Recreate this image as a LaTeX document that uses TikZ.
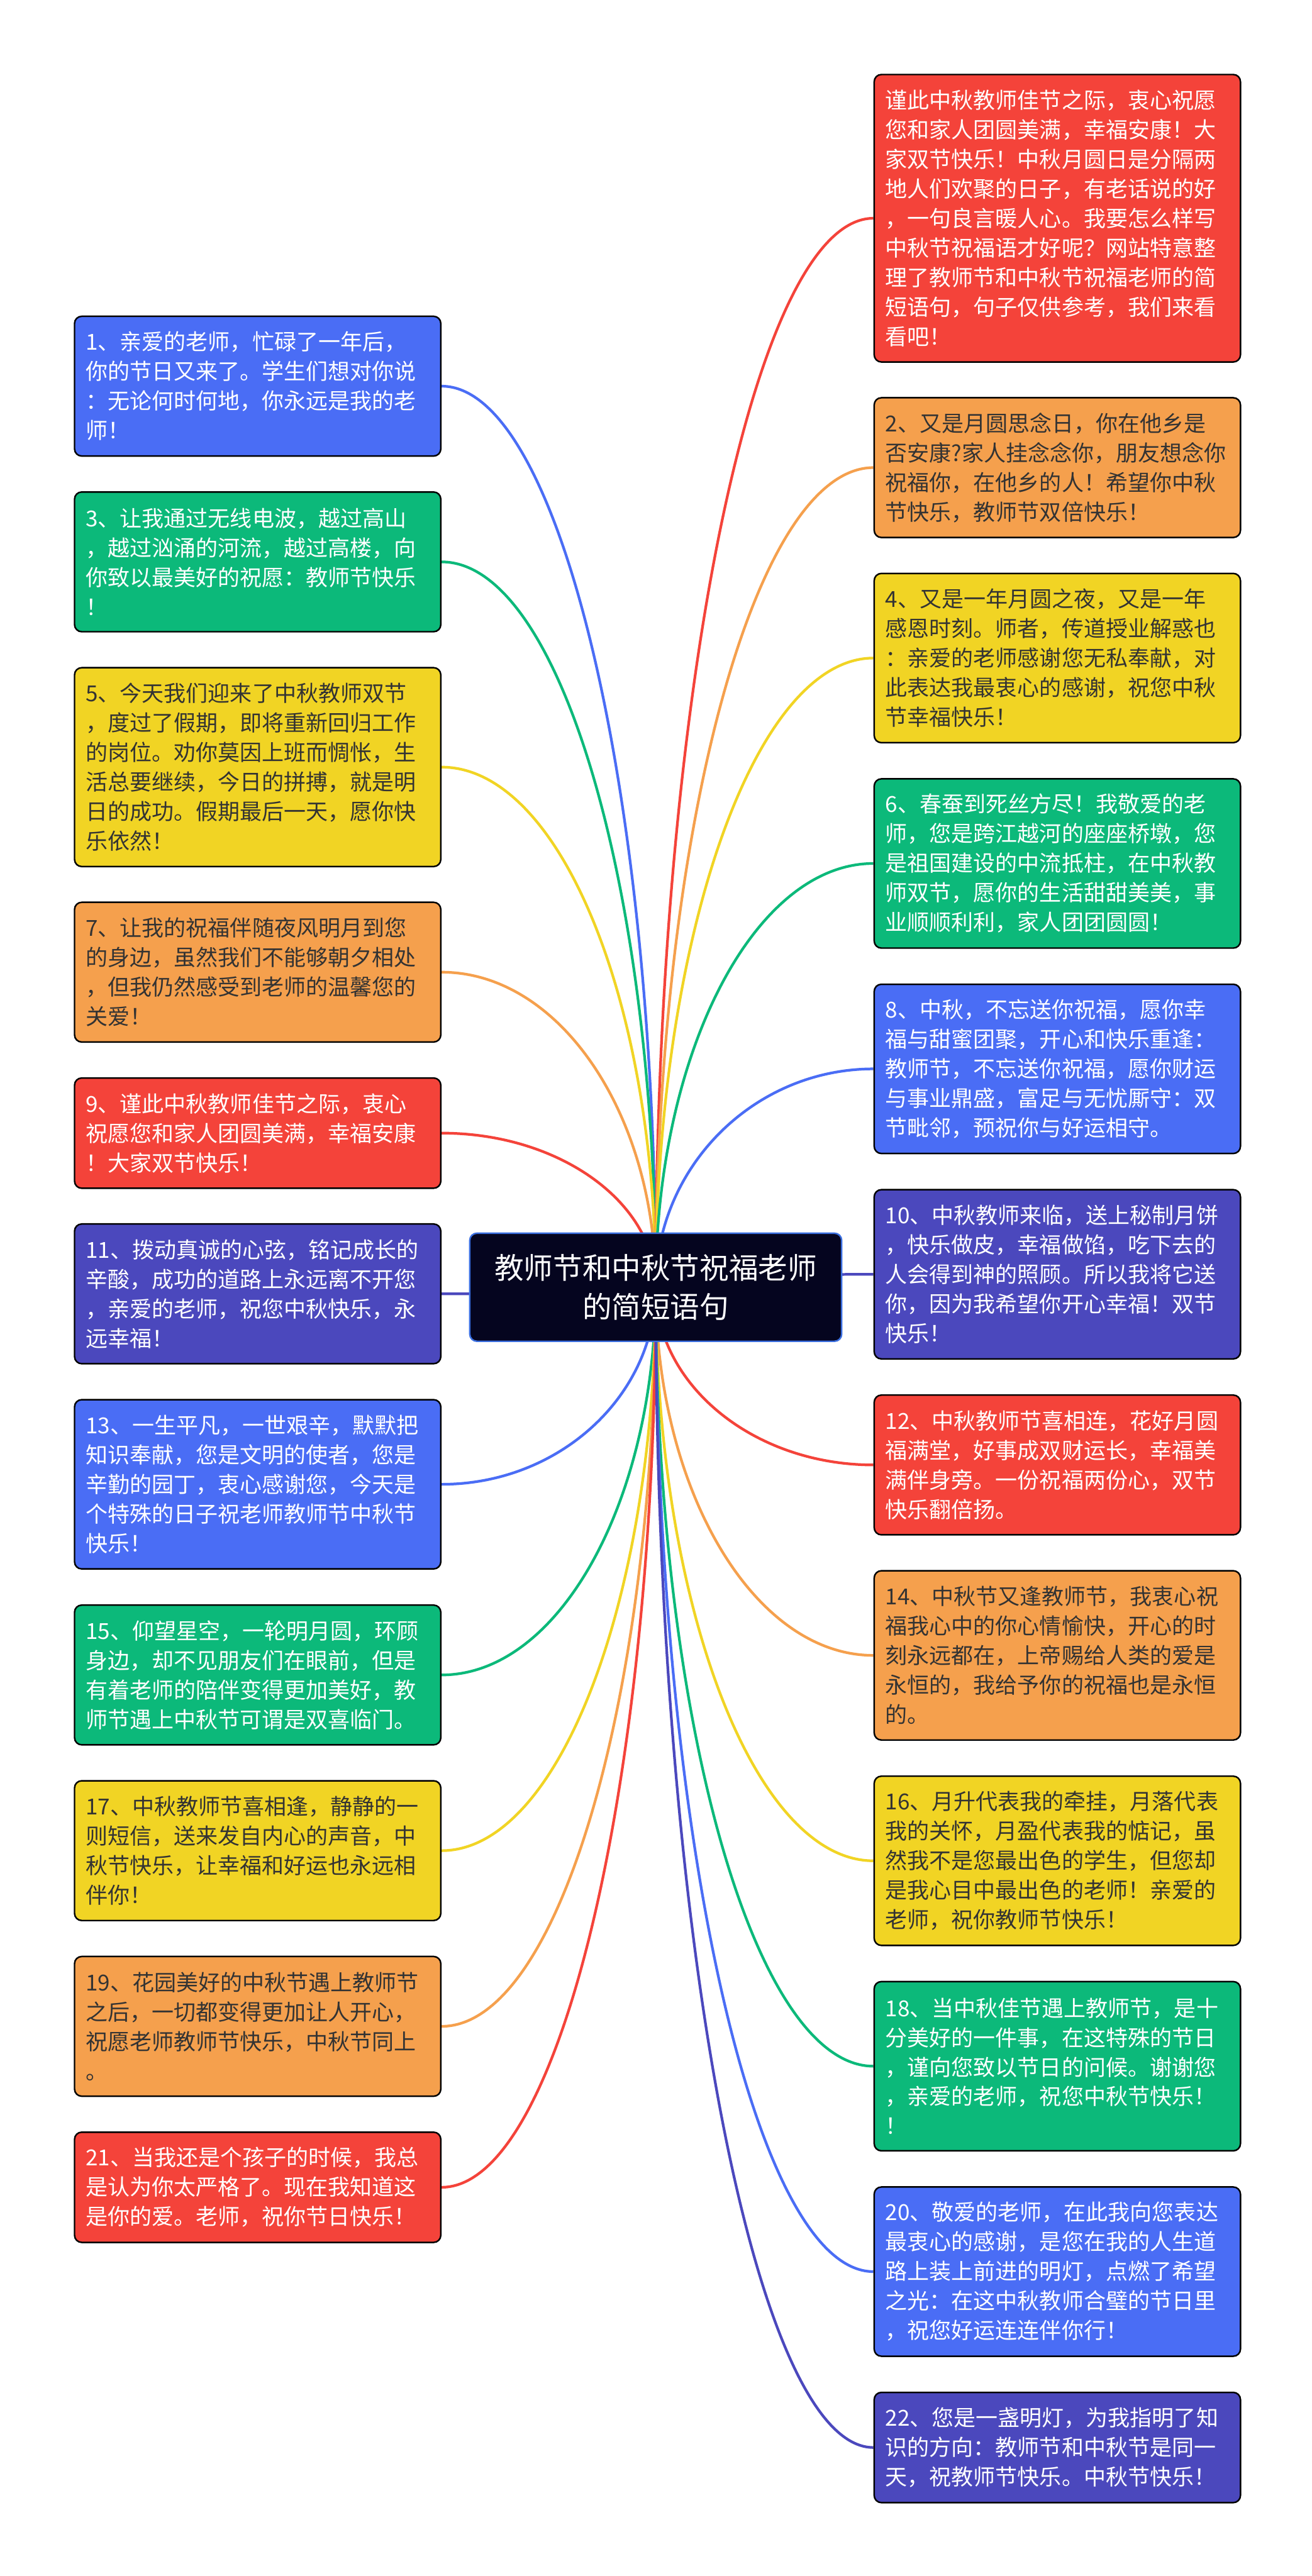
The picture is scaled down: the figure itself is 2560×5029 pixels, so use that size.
\documentclass[tikz,border=0pt]{standalone}
\usepackage{fontspec}
\newfontfamily\cjk{Noto Sans CJK SC}
\usetikzlibrary{calc,backgrounds}
\definecolor{cblue}{HTML}{4A6DF5}
\definecolor{cgreen}{HTML}{0CB97A}
\definecolor{cyellow}{HTML}{F1D424}
\definecolor{corange}{HTML}{F5A04D}
\definecolor{cred}{HTML}{F4433A}
\definecolor{cindigo}{HTML}{4B48BD}
\definecolor{cdark}{HTML}{333333}
\definecolor{cnavy}{HTML}{05051F}
\definecolor{cnavyborder}{HTML}{3B6FE0}
\tikzset{
  box/.style={draw=black, line width=0.75pt, rounded corners=3.5pt, anchor=north west,
    minimum width=178.75pt, text width=167.75pt, inner xsep=5.5pt, inner ysep=0pt,
    align=left, font=\cjk\fontsize{10.75pt}{14.42pt}\selectfont},
  Lthree/.style={minimum height=53.8pt},
  Lfour/.style={minimum height=68.2pt},
  Lfive/.style={minimum height=82.6pt},
  Lsix/.style={minimum height=97.05pt},
  Lnine/.style={minimum height=140.3pt},
  bluebox/.style={box, fill=cblue, text=white},
  greenbox/.style={box, fill=cgreen, text=white},
  yellowbox/.style={box, fill=cyellow, text=cdark},
  orangebox/.style={box, fill=corange, text=cdark},
  redbox/.style={box, fill=cred, text=white},
  indigobox/.style={box, fill=cindigo, text=white},
  rootbox/.style={draw=cnavyborder, line width=0.75pt, rounded corners=3.5pt, fill=cnavy, text=white,
    minimum width=181.5pt, minimum height=52.75pt, align=center, inner sep=0pt,
    font=\cjk\fontsize{14.3pt}{19.25pt}\selectfont},
  conn/.style={line width=1.3pt}
}
\newcommand\myconn[3]{%
  \draw[conn,#3] (c.center) .. controls ($(c.center)!0.55!(c.center|-#1.#2)$) and ($(#1.#2)!0.55!(c.center|-#1.#2)$) .. (#1.#2);}
\begin{document}
\begin{tikzpicture}[x=0.25pt,y=-0.25pt]
\useasboundingbox (0,0) rectangle (2560,5029);
% centre
\node[rootbox] (c) at (1280,2513) {教师节和中秋节祝福老师\\的简短语句};
% left column
\node[bluebox,Lfour] (n1) at (144,616) {1、亲爱的老师，忙碌了一年后，\\你的节日又来了。学生们想对你说\\：无论何时何地，你永远是我的老\\师！};
\node[greenbox,Lfour] (n3) at (144,959) {3、让我通过无线电波，越过高山\\，越过汹涌的河流，越过高楼，向\\你致以最美好的祝愿：教师节快乐\\！};
\node[yellowbox,Lsix] (n5) at (144,1302) {5、今天我们迎来了中秋教师双节\\，度过了假期，即将重新回归工作\\的岗位。劝你莫因上班而惆怅，生\\活总要继续，今日的拼搏，就是明\\日的成功。假期最后一天，愿你快\\乐依然！};
\node[orangebox,Lfour] (n7) at (144,1760) {7、让我的祝福伴随夜风明月到您\\的身边，虽然我们不能够朝夕相处\\，但我仍然感受到老师的温馨您的\\关爱！};
\node[redbox,Lthree] (n9) at (144,2103) {9、谨此中秋教师佳节之际，衷心\\祝愿您和家人团圆美满，幸福安康\\！大家双节快乐！};
\node[indigobox,Lfour] (n11) at (144,2388) {11、拨动真诚的心弦，铭记成长的\\辛酸，成功的道路上永远离不开您\\，亲爱的老师，祝您中秋快乐，永\\远幸福！};
\node[bluebox,Lfive] (n13) at (144,2731) {13、一生平凡，一世艰辛，默默把\\知识奉献，您是文明的使者，您是\\辛勤的园丁，衷心感谢您，今天是\\个特殊的日子祝老师教师节中秋节\\快乐！};
\node[greenbox,Lfour] (n15) at (144,3132) {15、仰望星空，一轮明月圆，环顾\\身边，却不见朋友们在眼前，但是\\有着老师的陪伴变得更加美好，教\\师节遇上中秋节可谓是双喜临门。};
\node[yellowbox,Lfour] (n17) at (144,3475) {17、中秋教师节喜相逢，静静的一\\则短信，送来发自内心的声音，中\\秋节快乐，让幸福和好运也永远相\\伴你！};
\node[orangebox,Lfour] (n19) at (144,3818) {19、花园美好的中秋节遇上教师节\\之后，一切都变得更加让人开心，\\祝愿老师教师节快乐，中秋节同上\\。};
\node[redbox,Lthree] (n21) at (144,4161) {21、当我还是个孩子的时候，我总\\是认为你太严格了。现在我知道这\\是你的爱。老师，祝你节日快乐！};
% right column
\node[redbox,Lnine] (n0) at (1705,144) {谨此中秋教师佳节之际，衷心祝愿\\您和家人团圆美满，幸福安康！大\\家双节快乐！中秋月圆日是分隔两\\地人们欢聚的日子，有老话说的好\\，一句良言暖人心。我要怎么样写\\中秋节祝福语才好呢？网站特意整\\理了教师节和中秋节祝福老师的简\\短语句，句子仅供参考，我们来看\\看吧！};
\node[orangebox,Lfour] (n2) at (1705,775) {2、又是月圆思念日，你在他乡是\\否安康?家人挂念念你，朋友想念你\\祝福你，在他乡的人！希望你中秋\\节快乐，教师节双倍快乐！};
\node[yellowbox,Lfive] (n4) at (1705,1118) {4、又是一年月圆之夜，又是一年\\感恩时刻。师者，传道授业解惑也\\：亲爱的老师感谢您无私奉献，对\\此表达我最衷心的感谢，祝您中秋\\节幸福快乐！};
\node[greenbox,Lfive] (n6) at (1705,1519) {6、春蚕到死丝方尽！我敬爱的老\\师，您是跨江越河的座座桥墩，您\\是祖国建设的中流抵柱，在中秋教\\师双节，愿你的生活甜甜美美，事\\业顺顺利利，家人团团圆圆！};
\node[bluebox,Lfive] (n8) at (1705,1920) {8、中秋，不忘送你祝福，愿你幸\\福与甜蜜团聚，开心和快乐重逢：\\教师节，不忘送你祝福，愿你财运\\与事业鼎盛，富足与无忧厮守：双\\节毗邻，预祝你与好运相守。};
\node[indigobox,Lfive] (n10) at (1705,2321) {10、中秋教师来临，送上秘制月饼\\，快乐做皮，幸福做馅，吃下去的\\人会得到神的照顾。所以我将它送\\你，因为我希望你开心幸福！双节\\快乐！};
\node[redbox,Lfour] (n12) at (1705,2722) {12、中秋教师节喜相连，花好月圆\\福满堂，好事成双财运长，幸福美\\满伴身旁。一份祝福两份心，双节\\快乐翻倍扬。};
\node[orangebox,Lfive] (n14) at (1705,3065) {14、中秋节又逢教师节，我衷心祝\\福我心中的你心情愉快，开心的时\\刻永远都在，上帝赐给人类的爱是\\永恒的，我给予你的祝福也是永恒\\的。};
\node[yellowbox,Lfive] (n16) at (1705,3466) {16、月升代表我的牵挂，月落代表\\我的关怀，月盈代表我的惦记，虽\\然我不是您最出色的学生，但您却\\是我心目中最出色的老师！亲爱的\\老师，祝你教师节快乐！};
\node[greenbox,Lfive] (n18) at (1705,3867) {18、当中秋佳节遇上教师节，是十\\分美好的一件事，在这特殊的节日\\，谨向您致以节日的问候。谢谢您\\，亲爱的老师，祝您中秋节快乐！\\！};
\node[bluebox,Lfive] (n20) at (1705,4268) {20、敬爱的老师，在此我向您表达\\最衷心的感谢，是您在我的人生道\\路上装上前进的明灯，点燃了希望\\之光：在这中秋教师合璧的节日里\\，祝您好运连连伴你行！};
\node[indigobox,Lthree] (n22) at (1705,4669) {22、您是一盏明灯，为我指明了知\\识的方向：教师节和中秋节是同一\\天，祝教师节快乐。中秋节快乐！};
% background and connectors
\begin{pgfonlayer}{background}
\fill[white] (0,0) rectangle (2560,5029);
\myconn{n1}{east}{cblue}
\myconn{n3}{east}{cgreen}
\myconn{n5}{east}{cyellow}
\myconn{n7}{east}{corange}
\myconn{n9}{east}{cred}
\myconn{n11}{east}{cindigo}
\myconn{n13}{east}{cblue}
\myconn{n15}{east}{cgreen}
\myconn{n17}{east}{cyellow}
\myconn{n19}{east}{corange}
\myconn{n21}{east}{cred}
\myconn{n0}{west}{cred}
\myconn{n2}{west}{corange}
\myconn{n4}{west}{cyellow}
\myconn{n6}{west}{cgreen}
\myconn{n8}{west}{cblue}
\myconn{n10}{west}{cindigo}
\myconn{n12}{west}{cred}
\myconn{n14}{west}{corange}
\myconn{n16}{west}{cyellow}
\myconn{n18}{west}{cgreen}
\myconn{n20}{west}{cblue}
\myconn{n22}{west}{cindigo}
\end{pgfonlayer}
\end{tikzpicture}
\end{document}
